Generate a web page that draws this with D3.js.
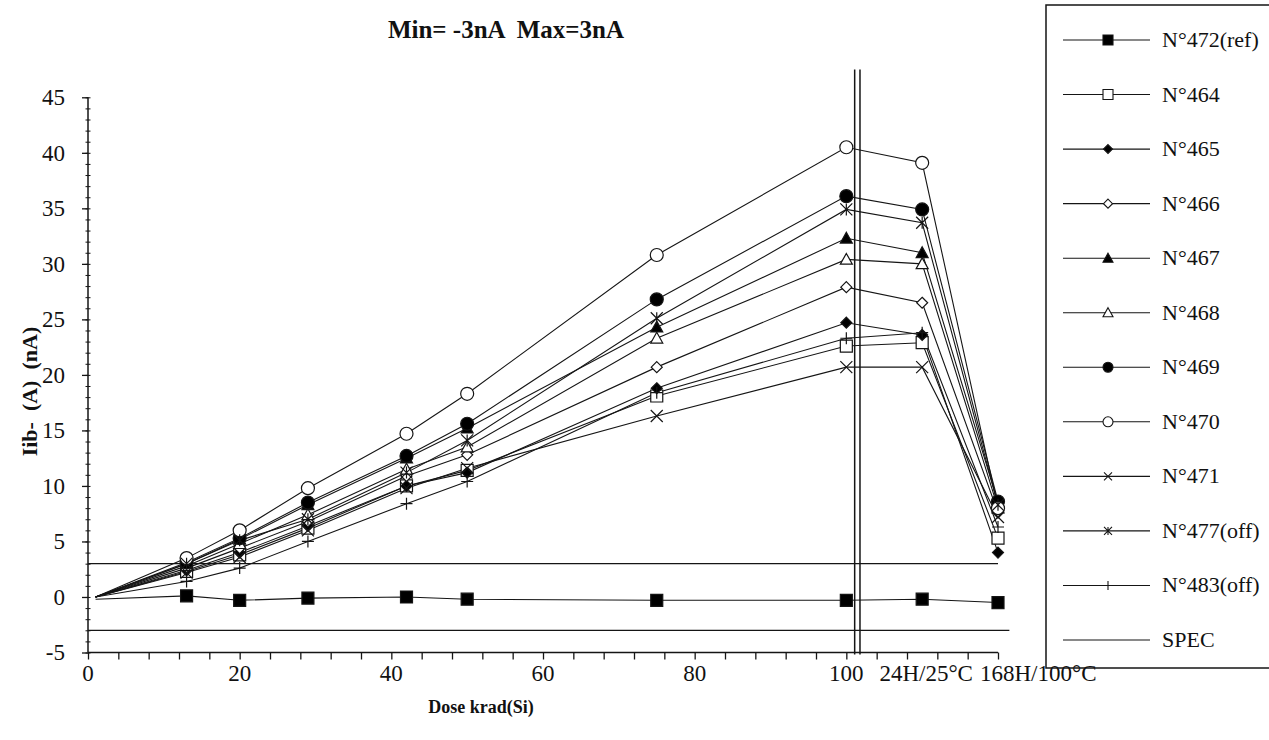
<!DOCTYPE html>
<html>
<head>
<meta charset="utf-8">
<script src="https://cdn.jsdelivr.net/npm/d3@7"></script>
<style>
  body { margin: 0; background: #fff; }
  svg { display: block; }
  text { font-family: "Liberation Serif", "Times New Roman", serif; fill: #111; }
</style>
</head>
<body>
<svg id="chart" width="1269" height="740"></svg>
<script>
// Irradiation steps (krad(Si)); 110 and 120 are the two annealing steps
const doses = [1, 13, 20, 29, 42, 50, 75, 100, 110, 120];

// Iib- per device (nA)
const n472 = [-0.2, 0.1, -0.3, -0.1, 0.0, -0.2, -0.3, -0.3, -0.2, -0.5];
const n464 = [0, 2.3, 3.8, 6.2, 10.0, 11.4, 18.1, 22.6, 22.9, 5.3];
const n465 = [0, 2.4, 4.0, 6.4, 10.0, 11.2, 18.8, 24.7, 23.6, 4.0];
const n466 = [0, 2.6, 4.4, 6.8, 10.9, 12.8, 20.7, 27.9, 26.5, 7.6];
const n467 = [0, 3.0, 5.2, 8.3, 12.5, 15.2, 24.3, 32.3, 31.0, 8.5];
const n468 = [0, 2.8, 4.8, 7.4, 11.5, 13.5, 23.3, 30.4, 30.0, 8.0];
const n469 = [0, 3.1, 5.3, 8.5, 12.7, 15.6, 26.8, 36.1, 34.9, 8.6];
const n470 = [0, 3.5, 6.0, 9.8, 14.7, 18.3, 30.8, 40.5, 39.1, 8.0];
const n471 = [0, 2.2, 3.6, 6.0, 9.8, 11.6, 16.3, 20.7, 20.7, 7.2];
const n477 = [0, 3.0, 5.1, 7.0, 11.2, 14.1, 25.1, 34.9, 33.7, 8.3];
const n483 = [0, 1.4, 2.6, 5.0, 8.4, 10.4, 18.4, 23.3, 23.8, 6.3];

// Specification limits (nA)
const specMin = -3;
const specMax = 3;
const specUpperDoses = [0, 120];
const specLowerDoses = [0, 121.5];

// End of irradiation separator (double rule)
const separatorDoses = [101.1, 101.8];
const separatorTop = 47.5;

// Axis ticks
const yMajorTicks = d3.range(-5, 46, 5);
const yMinorTicks = d3.range(-5, 46, 1);
const xMinorTicks = d3.range(0, 121, 4);
const xLabelValues = [0, 20, 40, 60, 80, 100, 110, 120];
const xLabelTexts = ["0", "20", "40", "60", "80", "100", "24H/25°C", "168H/100°C"];

const series = [
  { name: "N°472(ref)", values: n472, marker: "square",   fill: "#000" },
  { name: "N°464",      values: n464, marker: "square",   fill: "#fff" },
  { name: "N°465",      values: n465, marker: "diamond",  fill: "#000" },
  { name: "N°466",      values: n466, marker: "diamond",  fill: "#fff" },
  { name: "N°467",      values: n467, marker: "triangle", fill: "#000" },
  { name: "N°468",      values: n468, marker: "triangle", fill: "#fff" },
  { name: "N°469",      values: n469, marker: "circle",   fill: "#000" },
  { name: "N°470",      values: n470, marker: "circle",   fill: "#fff" },
  { name: "N°471",      values: n471, marker: "cross",    fill: "none" },
  { name: "N°477(off)", values: n477, marker: "star",     fill: "none" },
  { name: "N°483(off)", values: n483, marker: "plus",     fill: "none" }
];

const svg = d3.select("#chart");
const ink = "#151515";

const x = d3.scaleLinear().domain([0, 120]).range([88, 998]);
const y = d3.scaleLinear().domain([-5, 45]).range([652.5, 97.3]);

// marker path generator, s = nominal size in px
function markerPath(type, s) {
  const r = s / 2;
  switch (type) {
    case "square":   return `M${-r},${-r}H${r}V${r}H${-r}Z`;
    case "diamond":  return `M0,${-r}L${r},0L0,${r}L${-r},0Z`;
    case "triangle": return `M0,${-r}L${r},${r * 0.8}L${-r},${r * 0.8}Z`;
    case "circle":   return d3.symbol(d3.symbolCircle, Math.PI * r * r)();
    case "cross":    return `M${-r},${-r}L${r},${r}M${r},${-r}L${-r},${r}`;
    case "star":     return `M${-r},${-r}L${r},${r}M${r},${-r}L${-r},${r}M0,${-r}V${r}`;
    case "plus":     return `M${-r},0H${r}M0,${-r}V${r}`;
  }
}
const plotSize = { square: 12, diamond: 11, triangle: 12, circle: 13, cross: 12, star: 12, plus: 12 };
const legendSize = { square: 10, diamond: 9, triangle: 10, circle: 10, cross: 8, star: 8, plus: 9 };

// ---- Title ----
svg.append("text")
  .attr("x", 506).attr("y", 38)
  .attr("text-anchor", "middle")
  .style("font-size", "25px").style("font-weight", "bold")
  .attr("xml:space", "preserve")
  .text("Min= -3nA  Max=3nA");

// ---- Y axis ----
const yAxisG = svg.append("g").attr("transform", `translate(${x(0)},0)`);
yAxisG.call(d3.axisLeft(y).tickValues(yMajorTicks).tickSize(6).tickPadding(17).tickFormat(d => String(d)));
yAxisG.select(".domain").attr("stroke", ink).attr("stroke-width", 1.5).attr("d", `M0,${y(-5)}V${y(45)}`);
yAxisG.selectAll(".tick line").attr("stroke", ink).attr("stroke-width", 1.3);
yAxisG.selectAll(".tick text")
  .style("font-size", "23px").style("font-family", "'Liberation Serif', serif").attr("fill", "#111");

const yMinorG = svg.append("g").attr("transform", `translate(${x(0) + 2.5},0)`);
yMinorG.call(d3.axisLeft(y).tickValues(yMinorTicks).tickSize(5).tickFormat(""));
yMinorG.select(".domain").remove();
yMinorG.selectAll(".tick line").attr("stroke", ink).attr("stroke-width", 1);

// ---- X axis ----
const xAxisG = svg.append("g").attr("transform", `translate(0,${y(-5)})`);
xAxisG.call(d3.axisBottom(x).tickValues(xMinorTicks).tickSize(7).tickFormat(""));
xAxisG.select(".domain").attr("stroke", ink).attr("stroke-width", 1.5).attr("d", `M${x(0)},0H${x(120)}`);
xAxisG.selectAll(".tick line").attr("stroke", ink).attr("stroke-width", 1.3);

const xLabelG = svg.append("g");
xLabelG.selectAll("text")
  .data(xLabelValues.map((v, i) => ({ v, t: xLabelTexts[i] })))
  .join("text")
  .attr("x", d => x(d.v))
  .attr("dx", d => d.v === 110 ? 4 : (d.v === 120 ? -18 : 0))
  .attr("y", 681)
  .attr("text-anchor", d => d.v === 120 ? "start" : "middle")
  .style("font-size", "23px")
  .text(d => d.t);

// ---- Axis titles ----
svg.append("text")
  .attr("transform", `translate(37,${y(18.5)}) rotate(-90)`)
  .attr("text-anchor", "middle")
  .attr("xml:space", "preserve")
  .style("font-size", "22px").style("font-weight", "bold")
  .text("Iib-  (A)  (nA)");

svg.append("text")
  .attr("x", 481).attr("y", 713)
  .attr("text-anchor", "middle")
  .style("font-size", "18px").style("font-weight", "bold")
  .text("Dose krad(Si)");

// ---- Specification limits ----
const specG = svg.append("g");
[[specMax, specUpperDoses], [specMin, specLowerDoses]].forEach(([v, ds]) => {
  specG.append("line")
    .attr("x1", x(ds[0])).attr("x2", x(ds[1]))
    .attr("y1", y(v)).attr("y2", y(v))
    .attr("stroke", ink).attr("stroke-width", 1.3);
});

// ---- Series lines ----
const line = d3.line().x((d, i) => x(doses[i])).y(d => y(d));
const plotG = svg.append("g");
series.forEach(s => {
  plotG.append("path")
    .attr("d", line(s.values))
    .attr("fill", "none")
    .attr("stroke", ink)
    .attr("stroke-width", 1.1);
});

// ---- Separator ----
separatorDoses.forEach(d => {
  svg.append("line")
    .attr("x1", x(d)).attr("x2", x(d))
    .attr("y1", y(separatorTop)).attr("y2", y(-5) + 2)
    .attr("stroke", ink).attr("stroke-width", 1.5);
});

// ---- Markers (no marker at the starting step) ----
series.forEach(s => {
  plotG.selectAll(null)
    .data(s.values.slice(1).map((v, i) => ({ d: doses[i + 1], v })))
    .join("path")
    .attr("transform", p => `translate(${x(p.d)},${y(p.v)})`)
    .attr("d", markerPath(s.marker, plotSize[s.marker]))
    .attr("fill", s.fill)
    .attr("stroke", ink)
    .attr("stroke-width", 1.2);
});

// ---- Legend ----
const legend = svg.append("g");
legend.append("rect")
  .attr("x", 1046).attr("y", 5)
  .attr("width", 240).attr("height", 663)
  .attr("fill", "none").attr("stroke", ink).attr("stroke-width", 1.5);

const legendItems = series.map(s => ({ name: s.name, marker: s.marker, fill: s.fill }))
  .concat([{ name: "SPEC", marker: null, fill: "none" }]);
const legendY = d3.scalePoint().domain(legendItems.map(d => d.name)).range([40, 640]);

const li = legend.selectAll("g.item").data(legendItems).join("g")
  .attr("class", "item")
  .attr("transform", d => `translate(0,${legendY(d.name)})`);
li.append("line").attr("x1", 1063).attr("x2", 1150).attr("y1", 0).attr("y2", 0)
  .attr("stroke", ink).attr("stroke-width", 1.1);
li.filter(d => d.marker).append("path")
  .attr("transform", "translate(1108,0)")
  .attr("d", d => markerPath(d.marker, legendSize[d.marker]))
  .attr("fill", d => d.fill)
  .attr("stroke", ink).attr("stroke-width", 1.1);
li.append("text")
  .attr("x", 1162).attr("y", 7)
  .style("font-size", "22px")
  .text(d => d.name);
</script>
</body>
</html>
